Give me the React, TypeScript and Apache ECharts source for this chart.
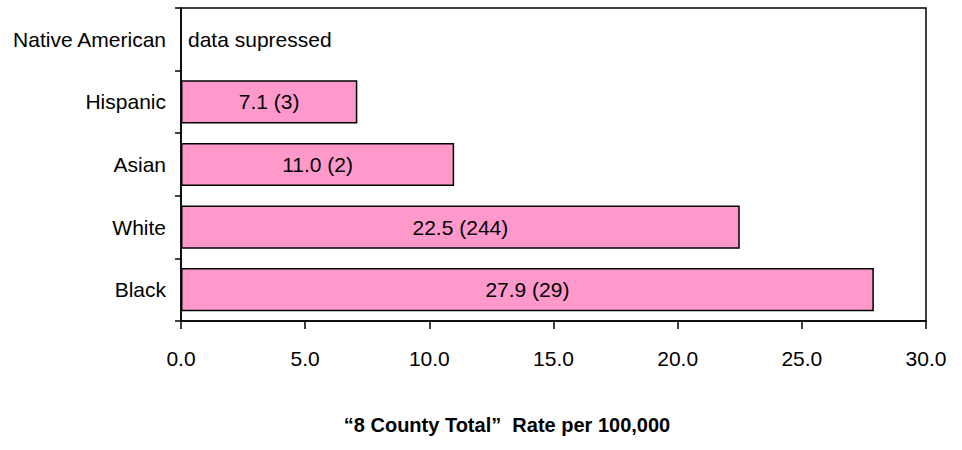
import React, { useEffect, useRef } from "react";
import * as echarts from "echarts";

const categories = ["Black", "White", "Asian", "Hispanic", "Native American"];
const rates: (number | null)[] = [27.9, 22.5, 11.0, 7.1, null];
const counts: (number | null)[] = [29, 244, 2, 3, null];
const xTicks = { min: 0, max: 30, interval: 5 };
const suppressedText = "data supressed";
const axisTitle = "\u201C8 County Total\u201D  Rate per 100,000";

export default function App() {
  const ref = useRef<HTMLDivElement>(null);
  useEffect(() => {
    if (!ref.current) return;
    const chart = echarts.init(ref.current, undefined, { renderer: "svg" });
    const font = "Arial, 'Liberation Sans', sans-serif";
    const data = rates.map((v, i) => {
      if (v === null) {
        return {
          value: 0,
          itemStyle: { borderWidth: 0, color: "rgba(0,0,0,0)" },
          label: {
            show: true,
            position: "right",
            distance: 7,
            formatter: suppressedText,
          },
        };
      }
      return { value: v };
    });
    chart.setOption({
      animation: false,
      textStyle: { fontFamily: font },
      grid: { left: 181, right: 36, top: 8, bottom: 129, show: true, borderColor: "#000", borderWidth: 1.5, containLabel: false },
      xAxis: {
        type: "value",
        min: xTicks.min,
        max: xTicks.max,
        interval: xTicks.interval,
        axisLine: { show: true, lineStyle: { color: "#000", width: 1.5 } },
        axisTick: { show: true, length: 8, lineStyle: { color: "#000", width: 1.5 } },
        axisLabel: { color: "#000", fontSize: 21, fontFamily: font, margin: 27, formatter: (v: number) => v.toFixed(1) },
        splitLine: { show: false },
      },
      yAxis: {
        type: "category",
        data: categories,
        axisLine: { show: true, lineStyle: { color: "#000", width: 1.5 } },
        axisTick: { show: true, length: 6, alignWithLabel: false, lineStyle: { color: "#000", width: 1.5 } },
        axisLabel: { color: "#000", fontSize: 21, fontFamily: font, margin: 15 },
      },
      series: [
        {
          type: "bar",
          data,
          barWidth: "69%",
          itemStyle: { color: "#FF99CC", borderColor: "#000", borderWidth: 1.5 },
          label: {
            show: true,
            position: "inside",
            color: "#000",
            fontSize: 21,
            fontFamily: font,
            formatter: (p: any) => {
              const i = p.dataIndex;
              if (rates[i] === null) return suppressedText;
              return `${(rates[i] as number).toFixed(1)} (${counts[i]})`;
            },
          },
        },
      ],
      graphic: [
        {
          type: "text",
          x: 507,
          y: 425,
          style: {
            text: axisTitle,
            font: `bold 20px ${font}`,
            fill: "#000",
            textAlign: "center",
            textVerticalAlign: "middle",
          },
        },
      ],
    });
    return () => chart.dispose();
  }, []);
  return <div ref={ref} style={{ position: "fixed", left: 0, top: 0, width: 962, height: 450, background: "#fff" }} />;
}
